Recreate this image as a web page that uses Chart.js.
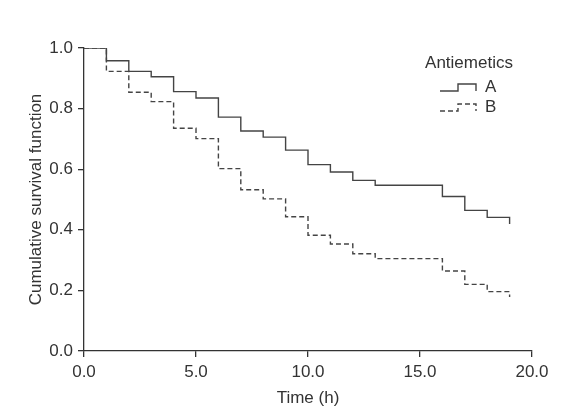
<!DOCTYPE html>
<html>
<head>
<meta charset="utf-8">
<title>Survival</title>
<script src="https://cdn.jsdelivr.net/npm/chart.js@4.4.0/dist/chart.umd.min.js"></script>
<style>
  html, body { margin: 0; padding: 0; background: #fff; }
  #wrap { width: 564px; height: 418px; }
</style>
</head>
<body>
<div id="wrap"><canvas id="kmChart"></canvas></div>
<script>
// time points (h) and cumulative survival
const times = [0, 1, 2, 3, 4, 5, 6, 7, 8, 9, 10, 11, 12, 13, 14, 15, 16, 17, 18, 19];
const survivalA = [1.0, 0.958, 0.923, 0.905, 0.856, 0.835, 0.772, 0.726, 0.706, 0.663,
  0.615, 0.591, 0.563, 0.547, 0.547, 0.547, 0.510, 0.464, 0.441, 0.419];
const survivalB = [1.0, 0.923, 0.854, 0.823, 0.735, 0.701, 0.602, 0.532, 0.502, 0.443,
  0.382, 0.353, 0.321, 0.305, 0.305, 0.305, 0.264, 0.220, 0.196, 0.178];
const groupLabels = ["A", "B"];
const legendTitle = "Antiemetics";
const xTicks = [0, 5, 10, 15, 20];
const yTicks = [0, 0.2, 0.4, 0.6, 0.8, 1.0];

const FONT = "'Liberation Sans', Arial, sans-serif";
const INK = "#333";

const toPoints = ys => times.map((t, i) => ({ x: t, y: ys[i] }));

// draws the step-shaped legend in the upper right of the plot
const stepLegend = {
  id: "stepLegend",
  afterDraw(chart) {
    const ctx = chart.ctx;
    const right = chart.chartArea.right;
    const top = chart.chartArea.top;
    ctx.save();
    ctx.fillStyle = INK;
    ctx.font = "17px " + FONT;
    ctx.textBaseline = "middle";
    ctx.textAlign = "center";
    ctx.fillText(legendTitle, right - 63, top + 15);
    chart.data.datasets.forEach((ds, i) => {
      const yLow = top + 43 + i * 20;
      const yHigh = yLow - 7;
      const x0 = right - 92, x1 = right - 74, x2 = right - 56;
      ctx.strokeStyle = ds.borderColor;
      ctx.lineWidth = ds.borderWidth;
      ctx.setLineDash(ds.borderDash || []);
      ctx.beginPath();
      ctx.moveTo(x0, yLow);
      ctx.lineTo(x1, yLow);
      ctx.lineTo(x1, yHigh);
      ctx.lineTo(x2, yHigh);
      ctx.lineTo(x2, yLow);
      ctx.stroke();
      ctx.setLineDash([]);
      ctx.textAlign = "left";
      ctx.fillText(ds.label, right - 47, yLow - 4);
    });
    ctx.restore();
  }
};

new Chart(document.getElementById("kmChart"), {
  type: "line",
  data: {
    datasets: [
      {
        label: groupLabels[0],
        data: toPoints(survivalA),
        stepped: true,
        borderColor: "#444",
        borderWidth: 1.4,
        pointRadius: 0,
        fill: false
      },
      {
        label: groupLabels[1],
        data: toPoints(survivalB),
        stepped: true,
        borderColor: "#444",
        borderWidth: 1.4,
        borderDash: [5, 3],
        pointRadius: 0,
        fill: false
      }
    ]
  },
  options: {
    responsive: true,
    maintainAspectRatio: false,
    animation: false,
    layout: { padding: { top: 48, right: 32, left: 0, bottom: 0 } },
    plugins: {
      legend: { display: false },
      tooltip: { enabled: false }
    },
    scales: {
      x: {
        type: "linear",
        min: 0,
        max: 20,
        afterBuildTicks: s => { s.ticks = xTicks.map(v => ({ value: v })); },
        afterFit: s => { s.height = 67; },
        ticks: {
          callback: v => v.toFixed(1),
          maxRotation: 0,
          color: INK,
          padding: 5,
          font: { family: FONT, size: 17 }
        },
        grid: { drawOnChartArea: false, tickLength: 6, color: INK, lineWidth: 1.3 },
        border: { display: true, color: INK, width: 1.3 },
        title: {
          display: true,
          text: "Time (h)",
          color: INK,
          padding: { top: 2, bottom: 9 },
          font: { family: FONT, size: 17 }
        }
      },
      y: {
        min: 0,
        max: 1,
        afterBuildTicks: s => { s.ticks = yTicks.map(v => ({ value: v })); },
        afterFit: s => { s.width = 84; },
        ticks: {
          callback: v => v.toFixed(1),
          color: INK,
          padding: 5,
          font: { family: FONT, size: 17 }
        },
        grid: { drawOnChartArea: false, tickLength: 6, color: INK, lineWidth: 1.3 },
        border: { display: true, color: INK, width: 1.3 },
        title: {
          display: true,
          text: "Cumulative survival function",
          color: INK,
          padding: { top: 26, bottom: 4 },
          font: { family: FONT, size: 17 }
        }
      }
    }
  },
  plugins: [stepLegend]
});
</script>
</body>
</html>
